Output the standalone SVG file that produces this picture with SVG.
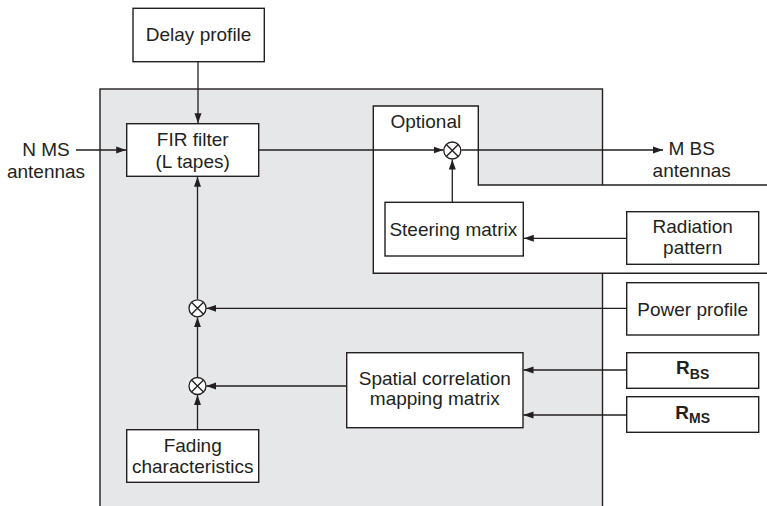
<svg xmlns="http://www.w3.org/2000/svg" width="767" height="506" viewBox="0 0 767 506">
<style>
.box{fill:#ffffff;stroke:#231f20;stroke-width:1.4}
.t{font-family:"Liberation Sans",Arial,sans-serif;font-size:19px;fill:#231f20;text-anchor:middle}
.b{font-weight:bold}
.s{font-size:14px;font-weight:bold}
.c{fill:none;stroke:#231f20;stroke-width:1.3}
.mul{fill:#ffffff;stroke:#231f20;stroke-width:1.3}
</style>
<defs>
<marker id="ah" markerUnits="userSpaceOnUse" markerWidth="10" markerHeight="8" refX="10" refY="4" orient="auto">
<path d="M0,0.5 L10,4 L0,7.5 Z" fill="#231f20"/>
</marker>
</defs>
<rect id="background" x="0" y="0" width="767" height="506" fill="#ffffff"/>
<g id="channel-model">
<rect x="100" y="89" width="502.5" height="430" fill="#e6e7e9" stroke="#231f20" stroke-width="1.4"/>
</g>
<g id="optional">
<path d="M373.3,106 H478.3 V185 H768 V273.3 H373.3 Z" fill="#ffffff" stroke="#231f20" stroke-width="1.4"/>
<text class="t" x="425.8" y="127.7">Optional</text>
</g>
<g id="delay-profile">
<rect class="box" x="133" y="8.3" width="131.3" height="53.4"/>
<text class="t" x="198.6" y="41.2">Delay profile</text>
</g>
<g id="fir-filter">
<rect class="box" x="126.7" y="123.7" width="132" height="52.6"/>
<text class="t" x="192.7" y="145.7">FIR filter</text>
<text class="t" x="192.7" y="167.8">(L tapes)</text>
</g>
<g id="n-ms-antennas">
<text class="t" x="46" y="156">N MS</text>
<text class="t" x="46" y="177.7">antennas</text>
</g>
<g id="m-bs-antennas">
<text class="t" x="691.7" y="155.3">M BS</text>
<text class="t" x="691.7" y="176.7">antennas</text>
</g>
<g id="steering-matrix">
<rect class="box" x="385" y="202.3" width="138.3" height="53.7"/>
<text class="t" x="453.3" y="235.7">Steering matrix</text>
</g>
<g id="radiation-pattern">
<rect class="box" x="626.7" y="211.7" width="132" height="52.6"/>
<text class="t" x="692.7" y="233.3">Radiation</text>
<text class="t" x="692.7" y="253.6">pattern</text>
</g>
<g id="power-profile">
<rect class="box" x="626.7" y="282.7" width="132" height="52.3"/>
<text class="t" x="692.7" y="315.7">Power profile</text>
</g>
<g id="r-bs">
<rect class="box" x="626.7" y="352.7" width="132" height="35.6"/>
<text class="t b" x="692.7" y="374.3">R<tspan class="s" dy="4.3">BS</tspan></text>
</g>
<g id="r-ms">
<rect class="box" x="626.7" y="396.7" width="132" height="35.6"/>
<text class="t b" x="692.7" y="418.5">R<tspan class="s" dy="4.3">MS</tspan></text>
</g>
<g id="spatial-correlation">
<rect class="box" x="346.7" y="352.7" width="176.3" height="75"/>
<text class="t" x="434.8" y="385">Spatial correlation</text>
<text class="t" x="434.8" y="405.2">mapping matrix</text>
</g>
<g id="fading-characteristics">
<rect class="box" x="126.7" y="429.7" width="132" height="52.6"/>
<text class="t" x="192.7" y="451.7">Fading</text>
<text class="t" x="192.7" y="473.3">characteristics</text>
</g>
<g id="connectors">
<line class="c" x1="198" y1="61.7" x2="198" y2="123.2" marker-end="url(#ah)"/>
<line class="c" x1="76" y1="150" x2="126.2" y2="150" marker-end="url(#ah)"/>
<line class="c" x1="258.7" y1="150" x2="443.5" y2="150" marker-end="url(#ah)"/>
<line class="c" x1="461.3" y1="150" x2="663" y2="150" marker-end="url(#ah)"/>
<line class="c" x1="452.3" y1="202.3" x2="452.3" y2="159.5" marker-end="url(#ah)"/>
<line class="c" x1="626.7" y1="238.3" x2="523.8" y2="238.3" marker-end="url(#ah)"/>
<line class="c" x1="626.7" y1="308.3" x2="206.3" y2="308.3" marker-end="url(#ah)"/>
<line class="c" x1="626.7" y1="370" x2="523.5" y2="370" marker-end="url(#ah)"/>
<line class="c" x1="626.7" y1="415" x2="523.5" y2="415" marker-end="url(#ah)"/>
<line class="c" x1="346.7" y1="386" x2="206.3" y2="386" marker-end="url(#ah)"/>
<line class="c" x1="197.5" y1="429.7" x2="197.5" y2="395" marker-end="url(#ah)"/>
<line class="c" x1="197.5" y1="377" x2="197.5" y2="317.3" marker-end="url(#ah)"/>
<line class="c" x1="197.5" y1="299.3" x2="197.5" y2="176.8" marker-end="url(#ah)"/>
</g>
<g id="multiplier-steering">
<circle class="mul" cx="452.3" cy="150.5" r="8.5"/>
<path class="c" d="M446.3,144.5 L458.3,156.5 M458.3,144.5 L446.3,156.5"/>
</g>
<g id="multiplier-power">
<circle class="mul" cx="197.5" cy="308.3" r="8.5"/>
<path class="c" d="M191.5,302.3 L203.5,314.3 M203.5,302.3 L191.5,314.3"/>
</g>
<g id="multiplier-spatial">
<circle class="mul" cx="197.5" cy="386" r="8.5"/>
<path class="c" d="M191.5,380 L203.5,392 M203.5,380 L191.5,392"/>
</g>
</svg>
